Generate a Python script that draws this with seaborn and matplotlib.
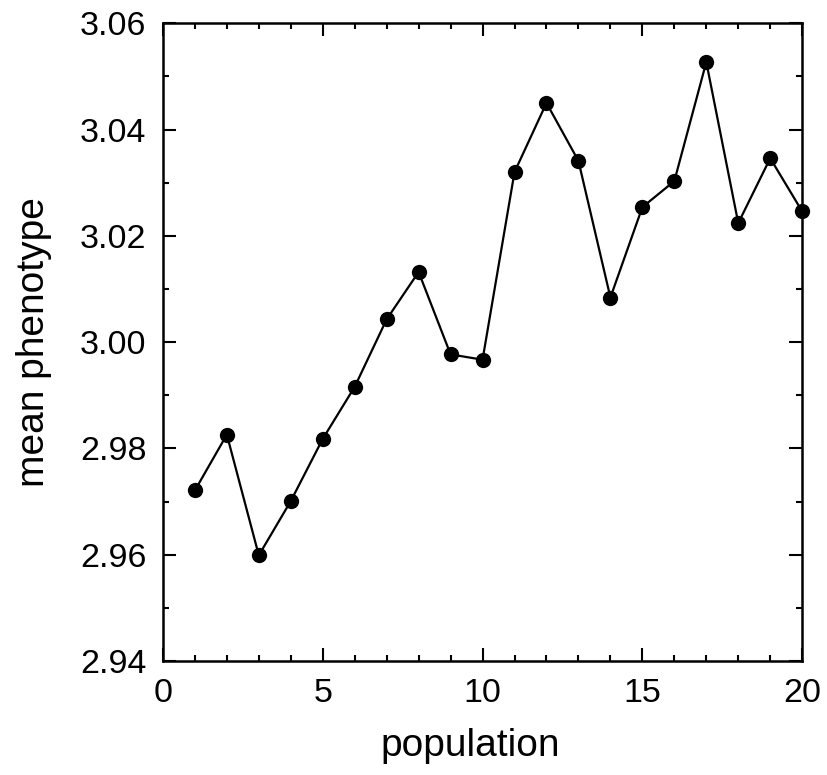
import matplotlib
matplotlib.use("Agg")
import matplotlib.pyplot as plt
import seaborn as sns
import pandas as pd
from matplotlib.ticker import MultipleLocator

population = list(range(1, 21))
mean_phenotype = [2.9721, 2.9826, 2.9599, 2.9701, 2.9818, 2.9916, 3.0043, 3.0132,
                  2.9977, 2.9967, 3.0320, 3.0450, 3.0341, 3.0084, 3.0254, 3.0303,
                  3.0527, 3.0224, 3.0346, 3.0246]
x_label = "population"
y_label = "mean phenotype"

sns.set_theme(style="ticks")
plt.rcParams['font.family'] = ['Liberation Sans', 'DejaVu Sans']

df = pd.DataFrame({"population": population, "mean phenotype": mean_phenotype})

fig = plt.figure(figsize=(8.27, 7.75), dpi=100)
ax = fig.add_axes([0.197, 0.147, 0.773, 0.823])
sns.lineplot(data=df, x="population", y="mean phenotype", ax=ax, color="black",
             linewidth=1.6, marker="o", markersize=11, markeredgewidth=0,
             markerfacecolor="black", clip_on=False, zorder=5)

ax.set_xlim(0, 20)
ax.set_ylim(2.94, 3.06)
ax.xaxis.set_major_locator(MultipleLocator(5))
ax.xaxis.set_minor_locator(MultipleLocator(1))
ax.yaxis.set_major_locator(MultipleLocator(0.02))
ax.yaxis.set_minor_locator(MultipleLocator(0.01))
ax.yaxis.set_major_formatter(matplotlib.ticker.FormatStrFormatter('%.2f'))

for s in ax.spines.values():
    s.set_visible(True)
    s.set_linewidth(1.8)
    s.set_color("black")

ax.tick_params(which="both", direction="in", top=True, right=True, colors="black",
               labelcolor="black", width=1.5)
ax.tick_params(which="major", length=9.5, labelsize=24.5, pad=12)
ax.tick_params(which="minor", length=4.5)

ax.set_xlabel(x_label, fontsize=28, color="black")
ax.set_ylabel(y_label, fontsize=28, color="black", labelpad=20)
ax.xaxis.set_label_coords(0.48, -0.105)

fig.savefig("out.png", dpi=100)
